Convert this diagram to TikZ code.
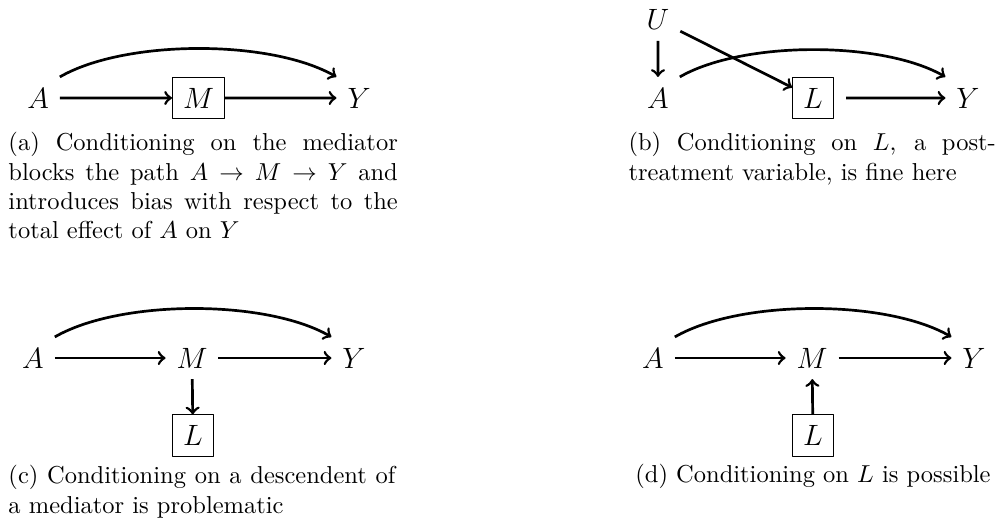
\documentclass[tikz,border=0pt]{standalone}
\hyphenpenalty=10000
\begin{document}
\begin{tikzpicture}[scale=0.98, line join=round,
	var/.style={inner sep=4.3pt, font=\large},
	cond/.style={var, draw, line width=0.4pt},
	arr/.style={->, line width=1.1pt},
	capt/.style={inner sep=0pt, text width=#1, align=justify, anchor=north west,
		font=\fontsize{10pt}{12pt}\selectfont}]

	\useasboundingbox (0,0) rectangle (14.63,7.615);

	% (a) mediator
	\node[var] (aA) at (0.557,6.18) {$A$};
	\node[cond] (aM) at (2.907,6.18) {$M$};
	\node[var] (aY) at (5.258,6.18) {$Y$};
	\draw[arr] (aA) -- (aM);
	\draw[arr] (aM) -- (aY);
	\draw[arr] (aA.north east) to[out=30, in=150, looseness=0.7] (aY.north west);
	\node[capt=159pt] (acap) at (0.117,5.683) {(a) Conditioning on the mediator blocks the path $A \rightarrow M \rightarrow Y$ and introduces bias with respect to the total effect of $A$ on $Y$};

	% (b) post-treatment
	\node[var] (bU) at (9.636,7.323) {$U$};
	\node[var] (bA) at (9.636,6.18) {$A$};
	\node[cond] (bL) at (11.906,6.18) {$L$};
	\node[var] (bY) at (14.176,6.18) {$Y$};
	\draw[arr] (bU) -- (bA);
	\draw[arr] (bU) -- (bL);
	\draw[arr, shorten <=5pt] (bL) -- (bY);
	\draw[arr] (bA.north east) to[out=30, in=150, looseness=0.7] (bY.north west);
	\node[capt=150pt] (bcap) at (9.197,5.683) {(b) Conditioning on $L$, a post-treatment variable, is fine here};

	% (c) descendent of mediator
	\node[var] (cA) at (0.483,2.372) {$A$};
	\node[var] (cM) at (2.812,2.372) {$M$};
	\node[var] (cY) at (5.184,2.372) {$Y$};
	\node[cond] (cL) at (2.826,1.237) {$L$};
	\draw[arr] (cA) -- (cM);
	\draw[arr] (cM) -- (cY);
	\draw[arr] (cM) -- (cL);
	\draw[arr] (cA.north east) to[out=30, in=150, looseness=0.7] (cY.north west);
	\node[capt=158pt] (ccap) at (0.117,0.806) {(c) Conditioning on a descendent of a mediator is problematic};

	% (d) parent of mediator
	\node[var] (dA) at (9.563,2.372) {$A$};
	\node[var] (dM) at (11.892,2.372) {$M$};
	\node[var] (dY) at (14.264,2.372) {$Y$};
	\node[cond] (dL) at (11.906,1.237) {$L$};
	\draw[arr] (dA) -- (dM);
	\draw[arr] (dM) -- (dY);
	\draw[arr] (dL) -- (dM);
	\draw[arr] (dA.north east) to[out=30, in=150, looseness=0.7] (dY.north west);
	\node[anchor=base] (dcap) at (11.906,0.542) {(d) Conditioning on $L$ is possible};

\end{tikzpicture}
\end{document}
